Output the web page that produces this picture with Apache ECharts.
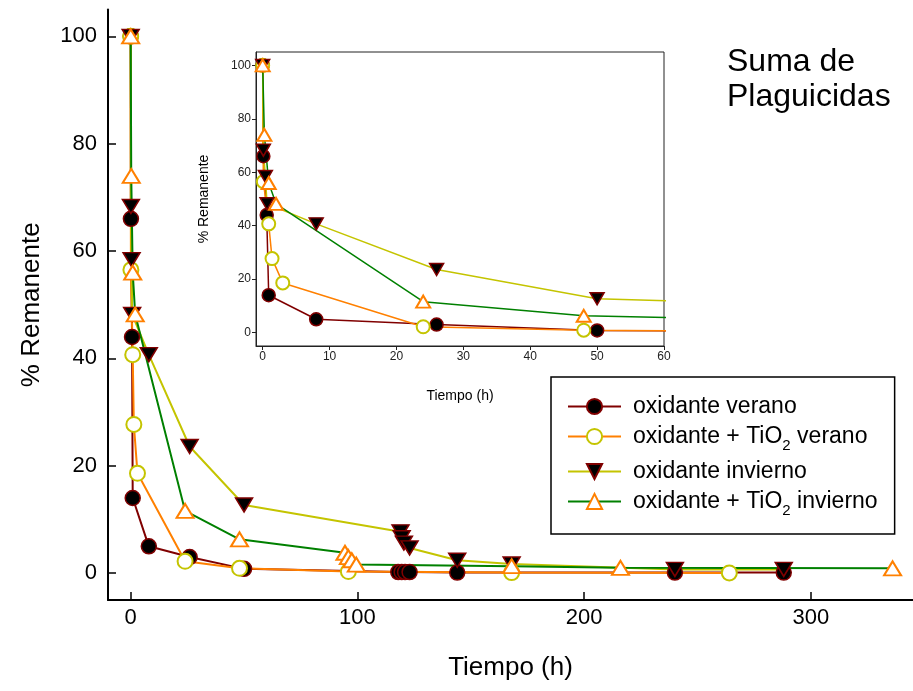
<!DOCTYPE html>
<html><head><meta charset="utf-8">
<script src="https://cdn.jsdelivr.net/npm/echarts@6/dist/echarts.min.js"></script>
<style>html,body{margin:0;padding:0;background:#fff}#c{width:913px;height:691px}</style>
</head><body><div id="c"></div>
<script>
// ---- data ----
const seriesNames = ['oxidante verano', 'oxidante + TiO2 verano', 'oxidante invierno', 'oxidante + TiO2 invierno'];
const tOxVerano   = [0, 0.1, 0.6, 0.9, 8, 26, 50, 118, 119.5, 121, 123, 144, 240, 288];
const vOxVerano   = [100, 66, 44, 14, 5, 3, 0.8, 0.2, 0.2, 0.2, 0.2, 0.1, 0.1, 0.1];
const tTiVerano   = [0, 0.1, 0.9, 1.4, 3, 24, 48, 96, 168, 264];
const vTiVerano   = [100, 56.5, 40.7, 27.7, 18.6, 2.2, 0.9, 0.3, 0.1, 0.05];
const tOxInvierno = [0, 0.1, 0.4, 0.65, 8, 26, 50, 119, 119.5, 120.5, 123, 144, 168, 240, 288];
const vOxInvierno = [100, 68.3, 58.4, 48.2, 40.7, 23.6, 12.7, 7.7, 6.6, 5.6, 4.7, 2.4, 1.7, 0.7, 0.7];
const tTiInvierno = [0, 0.25, 0.9, 2, 24, 48, 94.5, 96, 97.5, 99.5, 168, 216, 336];
const vTiInvierno = [100, 74, 56, 48.2, 11.6, 6.3, 3.8, 3.0, 2.4, 1.6, 1.3, 1.0, 0.9];
const mainXTicks  = [0, 100, 200, 300];
const mainYTicks  = [0, 20, 40, 60, 80, 100];
const insetXTicks = [0, 10, 20, 30, 40, 50, 60];
const insetYTicks = [0, 20, 40, 60, 80, 100];

// ---- styles ----
const FF = '"Liberation Sans", Arial, sans-serif';
const styles = [
  {line: '#800000', symbol: 'circle', rot: 0, fill: '#000000', border: '#800000', bw: 1.5},
  {line: '#ff8000', symbol: 'circle', rot: 0, fill: '#ffffff', border: '#c4c400', bw: 2},
  {line: '#c4c400', symbol: 'triangle', rot: 180, fill: '#000000', border: '#800000', bw: 1.5},
  {line: '#008000', symbol: 'triangle', rot: 0, fill: '#ffffff', border: '#ff8000', bw: 2}
];
const times = [tOxVerano, tTiVerano, tOxInvierno, tTiInvierno];
const vals = [vOxVerano, vTiVerano, vOxInvierno, vTiInvierno];

function pairs(t, v) { return t.map((x, i) => [x, v[i]]); }

function mkSeries(i, inset) {
  const s = styles[i];
  const circ = s.symbol === 'circle';
  const sz = inset ? (circ ? 13 : [14, 12]) : (circ ? 15 : [17, 14]);
  return {
    type: 'line', name: seriesNames[i],
    xAxisIndex: inset ? 1 : 0, yAxisIndex: inset ? 1 : 0,
    data: pairs(times[i], vals[i]),
    symbol: s.symbol, symbolRotate: s.rot, symbolSize: sz,
    showAllSymbol: true, clip: true, animation: false,
    z: inset ? 6 : 2,
    lineStyle: {color: s.line, width: inset ? 1.5 : 2},
    itemStyle: {color: s.fill, borderColor: s.border, borderWidth: s.bw, opacity: 1},
    emphasis: {disabled: true}
  };
}

const series = [];
for (let i = 0; i < 4; i++) series.push(mkSeries(i, false));
for (let i = 0; i < 4; i++) series.push(mkSeries(i, true));

function fmt(name) {
  if (name.indexOf('TiO2') >= 0) {
    const parts = name.split('TiO2');
    return '{a|' + parts[0] + 'TiO}{s|2}{a|' + parts[1] + '}';
  }
  return '{a|' + name + '}';
}

const option = {
  backgroundColor: '#ffffff',
  animation: false,
  textStyle: {fontFamily: FF},
  grid: [
    {left: 108, top: 9.5, width: 805, height: 590.5, containLabel: false, outerBoundsMode: 'none'},
    {left: 256, top: 52, width: 408, height: 294, containLabel: false, outerBoundsMode: 'none',
     show: true, backgroundColor: '#ffffff', borderColor: '#222', borderWidth: 1, z: 5}
  ],
  xAxis: [
    {type: 'value', gridIndex: 0, min: -10, max: 345,
     name: 'Tiempo (h)', nameLocation: 'middle', nameGap: 55,
     nameTextStyle: {fontSize: 26, color: '#000', fontFamily: FF},
     axisLine: {onZero: false, lineStyle: {color: '#000', width: 2}},
     axisTick: {inside: true, length: 8, lineStyle: {color: '#000', width: 1.5}, customValues: mainXTicks},
     axisLabel: {fontSize: 22, color: '#000', margin: 7, fontFamily: FF, customValues: mainXTicks},
     splitLine: {show: false}},
    {type: 'value', gridIndex: 1, min: -1, max: 60, z: 6,
     name: 'Tiempo (h)', nameLocation: 'middle', nameGap: 43,
     nameTextStyle: {fontSize: 14, color: '#000', fontFamily: FF},
     axisLine: {onZero: false, lineStyle: {color: '#222', width: 1}},
     axisTick: {inside: false, length: 4, lineStyle: {color: '#222', width: 1}, customValues: insetXTicks},
     axisLabel: {fontSize: 12, color: '#222', margin: 5, fontFamily: FF, customValues: insetXTicks},
     splitLine: {show: false}}
  ],
  yAxis: [
    {type: 'value', gridIndex: 0, min: -5, max: 105,
     name: '% Remanente', nameLocation: 'middle', nameGap: 63,
     nameTextStyle: {fontSize: 26, color: '#000', fontFamily: FF},
     axisLine: {onZero: false, lineStyle: {color: '#000', width: 2}},
     axisTick: {inside: true, length: 8, lineStyle: {color: '#000', width: 1.5}, customValues: mainYTicks},
     axisLabel: {fontSize: 22, color: '#000', margin: 11, fontFamily: FF, customValues: mainYTicks},
     splitLine: {show: false}},
    {type: 'value', gridIndex: 1, min: -5, max: 105, z: 6,
     name: '% Remanente', nameLocation: 'middle', nameGap: 45,
     nameTextStyle: {fontSize: 14, color: '#000', fontFamily: FF},
     axisLine: {onZero: false, lineStyle: {color: '#222', width: 1}},
     axisTick: {inside: false, length: 4, lineStyle: {color: '#222', width: 1}, customValues: insetYTicks},
     axisLabel: {fontSize: 12, color: '#222', margin: 5, fontFamily: FF, customValues: insetYTicks},
     splitLine: {show: false}}
  ],
  legend: {
    orient: 'vertical', left: 551, top: 377,
    padding: [18, 17, 16, 16], itemGap: 7, itemWidth: 53, itemHeight: 19,
    borderColor: '#000', borderWidth: 1.5, backgroundColor: '#fff',
    selectedMode: false, data: seriesNames, formatter: fmt,
    textStyle: {fontSize: 23, color: '#000', fontFamily: FF, padding: [0, 0, 0, 7],
      rich: {
        a: {fontSize: 23, lineHeight: 26, color: '#000', fontFamily: FF, verticalAlign: 'middle'},
        s: {fontSize: 15, lineHeight: 8, height: 8, color: '#000', fontFamily: FF, verticalAlign: 'bottom'}
      }}
  },
  graphic: [
    {type: 'text', left: 727, top: 45, z: 10,
     style: {text: 'Suma de\nPlaguicidas', fontSize: 32, lineHeight: 35, fill: '#000', fontFamily: FF}}
  ],
  series: series
};

const chart = echarts.init(document.getElementById('c'), null, {renderer: 'canvas'});
chart.setOption(option);
</script>
</body></html>
